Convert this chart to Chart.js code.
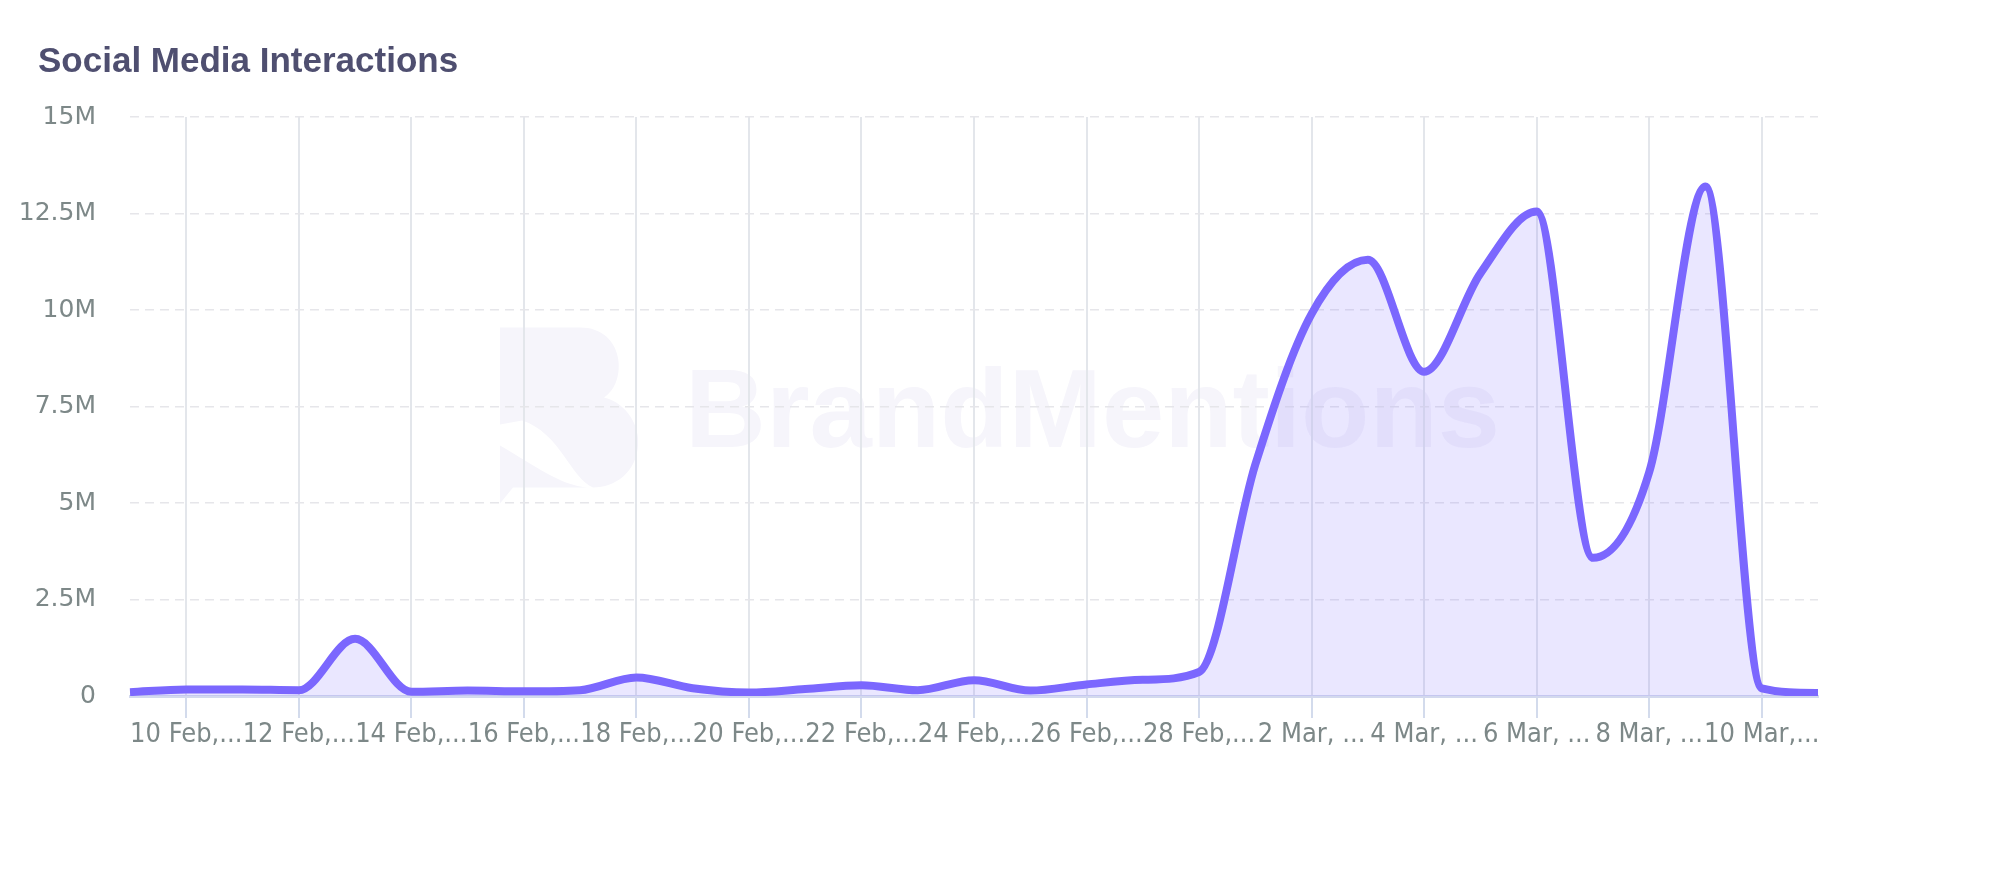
<!DOCTYPE html>
<html>
<head>
<meta charset="utf-8">
<title>Social Media Interactions</title>
<script src="https://cdn.jsdelivr.net/npm/chart.js@4.4.1/dist/chart.umd.min.js"></script>
<style>
  html, body { margin: 0; padding: 0; background: #fff; }
  #wrap { position: relative; width: 1999px; height: 880px; }
  #title {
    position: absolute; left: 38px; top: 42px; margin: 0;
    font: bold 35px/35px "Liberation Sans", Arial, sans-serif;
    color: #4f4f70; white-space: nowrap;
  }
  canvas { position: absolute; left: 0; top: 0; }
</style>
</head>
<body>
<div id="wrap">
  <canvas id="myChart" width="1999" height="880"></canvas>
  <div id="title">Social Media Interactions</div>
</div>
<script>
// one point per day, 9 Feb - 11 Mar
var dates = ['9 Feb', '10 Feb', '11 Feb', '12 Feb', '13 Feb', '14 Feb', '15 Feb', '16 Feb', '17 Feb', '18 Feb',
  '19 Feb', '20 Feb', '21 Feb', '22 Feb', '23 Feb', '24 Feb', '25 Feb', '26 Feb', '27 Feb', '28 Feb',
  '1 Mar', '2 Mar', '3 Mar', '4 Mar', '5 Mar', '6 Mar', '7 Mar', '8 Mar', '9 Mar', '10 Mar', '11 Mar'];

// interactions, in millions
var interactions = [0.10, 0.17, 0.17, 0.15, 1.48, 0.11, 0.14, 0.12, 0.15, 0.48,
  0.20, 0.09, 0.18, 0.28, 0.15, 0.41, 0.14, 0.30, 0.42, 0.62,
  6.0, 9.9, 11.3, 8.4, 10.95, 12.55, 3.58, 5.8, 13.2, 0.2, 0.08];

// labels shown under every second day (already cut short like the original)
var tickLabels = ['10 Feb,...', '12 Feb,...', '14 Feb,...', '16 Feb,...', '18 Feb,...', '20 Feb,...',
  '22 Feb,...', '24 Feb,...', '26 Feb,...', '28 Feb,...', '2 Mar, ...', '4 Mar, ...', '6 Mar, ...',
  '8 Mar, ...', '10 Mar,...'];

var yTicks = [0, 2.5, 5, 7.5, 10, 12.5, 15];

// faint logo + name behind the plot
var watermark = {
  id: 'watermark',
  beforeDraw: function(chart) {
    var a = chart.chartArea;
    var ctx = chart.ctx;
    var cx = (a.left + a.right) / 2 + 22;
    var cy = (a.top + a.bottom) / 2 + 9;
    var x0 = cx - 496, y0 = cy - 88;
    ctx.save();
    ctx.fillStyle = '#f6f5fb';
    // stylised B
    ctx.beginPath();
    ctx.moveTo(x0, y0);
    ctx.lineTo(x0 + 80, y0);
    ctx.bezierCurveTo(x0 + 125, y0, x0 + 128, y0 + 55, x0 + 104, y0 + 70);
    ctx.bezierCurveTo(x0 + 128, y0 + 76, x0 + 140, y0 + 100, x0 + 138, y0 + 118);
    ctx.bezierCurveTo(x0 + 136, y0 + 145, x0 + 115, y0 + 160, x0 + 93, y0 + 160);
    ctx.bezierCurveTo(x0 + 70, y0 + 150, x0 + 60, y0 + 105, x0 + 22, y0 + 93);
    ctx.lineTo(x0, y0 + 97);
    ctx.closePath();
    ctx.fill();
    ctx.beginPath();
    ctx.moveTo(x0, y0 + 118);
    ctx.bezierCurveTo(x0 + 35, y0 + 138, x0 + 60, y0 + 158, x0 + 88, y0 + 160);
    ctx.lineTo(x0 + 13, y0 + 160);
    ctx.lineTo(x0, y0 + 176);
    ctx.closePath();
    ctx.fill();
    ctx.font = 'bold 112px "Liberation Sans", Arial, sans-serif';
    ctx.textBaseline = 'alphabetic';
    ctx.fillText('BrandMentions', x0 + 185, y0 + 119);
    ctx.restore();
  }
};

var ctx = document.getElementById('myChart').getContext('2d');
var myChart = new Chart(ctx, {
  type: 'line',
  data: {
    labels: dates,
    datasets: [{
      label: 'Interactions',
      data: interactions,
      borderColor: '#7b67fe',
      backgroundColor: 'rgba(124, 103, 254, 0.16)',
      borderWidth: 8,
      fill: 'origin',
      pointRadius: 0,
      cubicInterpolationMode: 'monotone'
    }]
  },
  options: {
    responsive: false,
    animation: false,
    devicePixelRatio: 1,
    layout: {
      padding: { left: 0, right: 181, top: 117, bottom: 0 }
    },
    plugins: {
      legend: { display: false },
      tooltip: { enabled: false },
      title: { display: false }
    },
    scales: {
      x: {
        offset: false,
        afterFit: function(scale) { scale.height = 184; },
        border: { display: true, color: '#d3d9ee', width: 3 },
        grid: {
          color: function(c) { return c.index % 2 === 1 ? '#e3e6eb' : 'rgba(0,0,0,0)'; },
          tickColor: function(c) { return c.index % 2 === 1 ? '#d3dbec' : 'rgba(0,0,0,0)'; },
          lineWidth: 2,
          tickLength: 22
        },
        ticks: {
          autoSkip: false,
          maxRotation: 0,
          padding: 3,
          color: '#7d8888',
          font: { family: '"DejaVu Sans Condensed", "Liberation Sans Narrow", "DejaVu Sans", sans-serif', size: 27, lineHeight: 1 },
          callback: function(value, index) {
            return index % 2 === 1 ? tickLabels[(index - 1) / 2] : '';
          }
        }
      },
      y: {
        min: yTicks[0],
        max: yTicks[yTicks.length - 1],
        afterFit: function(scale) { scale.width = 130; },
        afterBuildTicks: function(scale) {
          scale.ticks = yTicks.map(function(v) { return { value: v }; });
        },
        border: { display: false, dash: [9, 6] },
        grid: {
          color: '#e6e6ea',
          lineWidth: 1.5,
          drawTicks: false
        },
        ticks: {
          padding: 34,
          color: '#7d8888',
          font: { family: '"DejaVu Sans", sans-serif', size: 25 },
          callback: function(v) { return v === 0 ? '0' : v + 'M'; }
        }
      }
    }
  },
  plugins: [watermark]
});
</script>
</body>
</html>
